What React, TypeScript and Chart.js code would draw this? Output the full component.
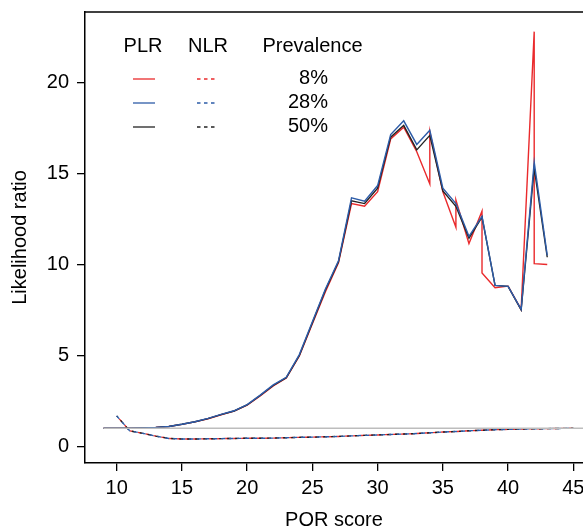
import React, { useEffect, useRef } from 'react';
import { Chart, registerables } from 'chart.js';

Chart.register(...registerables);

// ---- data ----
const scoreX = [9, 10, 11, 12, 13, 14, 15, 16, 17, 18, 19, 20, 21, 22, 23, 24, 25, 26, 27, 28, 29, 30, 31, 32, 33, 34, 35, 36, 37, 38, 39, 40, 41, 42, 43];
const plr50 = [1.0, 1.0, 1.0, 1.02, 1.05, 1.1, 1.22, 1.36, 1.53, 1.75, 1.95, 2.28, 2.8, 3.35, 3.78, 5.0, 6.8, 8.6, 10.15, 13.5, 13.35, 14.2, 17.0, 17.65, 16.3, 17.1, 14.05, 13.2, 11.45, 12.6, 8.85, 8.8, 7.5, 15.3, 10.4];
const plr28 = [1.0, 1.0, 1.0, 1.02, 1.05, 1.1, 1.22, 1.36, 1.54, 1.76, 1.96, 2.3, 2.82, 3.38, 3.8, 5.05, 6.85, 8.65, 10.2, 13.66, 13.48, 14.34, 17.14, 17.9, 16.6, 17.38, 14.2, 13.35, 11.55, 12.65, 8.85, 8.8, 7.53, 15.62, 10.5];
const plr8X = [9, 10, 11, 12, 13, 14, 15, 16, 17, 18, 19, 20, 21, 22, 23, 24, 25, 26, 27, 28, 29, 30, 31, 32, 33, 34, 34, 35, 36, 36, 37, 38, 38, 39, 40, 41, 42, 42, 43];
const plr8 = [1.0, 1.0, 1.0, 1.02, 1.05, 1.1, 1.21, 1.35, 1.52, 1.74, 1.94, 2.27, 2.78, 3.33, 3.76, 4.97, 6.75, 8.5, 10.1, 13.35, 13.2, 14.0, 16.9, 17.55, 16.2, 14.43, 17.3, 14.0, 12.05, 13.55, 11.15, 12.93, 9.54, 8.72, 8.81, 7.53, 22.8, 10.05, 10.0];

const nlrX = [10, 11, 12, 13, 14, 15, 16, 17, 18, 19, 20, 21, 22, 23, 24, 25, 26, 27, 28, 29, 30, 31, 32, 33, 34, 35, 36, 37, 38, 39, 40, 41, 42, 43, 44, 45];
const nlr50 = [1.68, 0.86, 0.72, 0.57, 0.44, 0.41, 0.41, 0.42, 0.43, 0.44, 0.45, 0.45, 0.46, 0.48, 0.5, 0.51, 0.53, 0.55, 0.58, 0.61, 0.63, 0.66, 0.68, 0.71, 0.75, 0.79, 0.82, 0.86, 0.89, 0.92, 0.94, 0.96, 0.97, 0.98, 0.99, 1.0];
const nlr28 = [1.68, 0.86, 0.72, 0.57, 0.44, 0.41, 0.41, 0.42, 0.43, 0.44, 0.45, 0.45, 0.46, 0.48, 0.5, 0.51, 0.53, 0.55, 0.58, 0.61, 0.63, 0.66, 0.68, 0.71, 0.75, 0.79, 0.82, 0.86, 0.89, 0.92, 0.94, 0.96, 0.97, 0.98, 0.99, 1.0];
const nlr8 = [1.68, 0.86, 0.72, 0.57, 0.44, 0.41, 0.41, 0.42, 0.43, 0.44, 0.45, 0.45, 0.46, 0.48, 0.5, 0.51, 0.53, 0.55, 0.58, 0.61, 0.63, 0.66, 0.68, 0.71, 0.75, 0.79, 0.82, 0.86, 0.89, 0.92, 0.94, 0.96, 0.97, 0.98, 0.99, 1.0];

const refX = [9, 47];
const refY = [1, 1];

const xTicks = [10, 15, 20, 25, 30, 35, 40, 45];
const yTicks = [0, 5, 10, 15, 20];
const prevalenceLabels = ['8%', '28%', '50%'];

const RED = '#ea2a2c';
const BLUE = '#2d5ca8';
const BLACK = '#222222';
const FONT = '"Liberation Sans", Arial, sans-serif';

const toPts = (xs: number[], ys: number[]) => xs.map((x, i) => ({ x, y: ys[i] }));

const legendPlugin = {
  id: 'rlegend',
  afterDraw(chart: any) {
    const ctx = chart.ctx;
    const { top, left, right } = chart.chartArea;
    ctx.save();
    // top border of the box
    ctx.strokeStyle = '#000';
    ctx.lineWidth = 1.5;
    ctx.beginPath();
    ctx.moveTo(left, top);
    ctx.lineTo(right, top);
    ctx.stroke();

    ctx.font = `20px ${FONT}`;
    ctx.fillStyle = '#000';
    ctx.textBaseline = 'middle';
    ctx.textAlign = 'center';
    ctx.fillText('PLR', 143, 46.5);
    ctx.fillText('NLR', 208, 46.5);
    ctx.fillText('Prevalence', 312.5, 46.5);
    const colors = [RED, BLUE, BLACK];
    const rows = [78, 102, 126];
    rows.forEach((y, i) => {
      ctx.textAlign = 'right';
      ctx.fillStyle = '#000';
      ctx.fillText(prevalenceLabels[i], 328, y + 0.5);
      ctx.strokeStyle = colors[i];
      ctx.lineWidth = 1.3;
      ctx.setLineDash([]);
      ctx.beginPath();
      ctx.moveTo(133, y + 1);
      ctx.lineTo(155, y + 1);
      ctx.stroke();
      ctx.setLineDash([3.5, 3.5]);
      ctx.beginPath();
      ctx.moveTo(197, y + 1);
      ctx.lineTo(217, y + 1);
      ctx.stroke();
    });
    ctx.restore();
  },
};

export default function App() {
  const ref = useRef<HTMLCanvasElement>(null);
  useEffect(() => {
    document.body.style.margin = '0';
    const canvas = ref.current;
    if (!canvas) return;
    const lineDs = (label: string, data: any[], color: string, dashed: boolean, offset = 0) => ({
      label,
      data,
      borderColor: color,
      backgroundColor: color,
      borderWidth: 1.4,
      borderDash: dashed ? [4, 4] : [],
      borderDashOffset: offset,
      pointRadius: 0,
      tension: 0,
      fill: false,
    });
    const chart = new Chart(canvas, {
      type: 'line',
      data: {
        datasets: [
          { ...lineDs('ref', toPts(refX, refY), '#bdbdbd', false), borderWidth: 1.6 },
          lineDs('NLR 28%', toPts(nlrX, nlr28), BLUE, true, 0),
          lineDs('NLR 50%', toPts(nlrX, nlr50), BLACK, true, 2),
          lineDs('NLR 8%', toPts(nlrX, nlr8), RED, true, 4),
          lineDs('PLR 28%', toPts(scoreX, plr28), BLUE, false),
          lineDs('PLR 50%', toPts(scoreX, plr50), BLACK, false),
          lineDs('PLR 8%', toPts(plr8X, plr8), RED, false),
        ],
      },
      options: {
        responsive: false,
        animation: false,
        devicePixelRatio: 1,
        layout: { padding: { top: 12, left: 0, right: 0, bottom: 0 } },
        plugins: { legend: { display: false }, tooltip: { enabled: false } },
        scales: {
          x: {
            type: 'linear',
            min: 7.574,
            max: 45.74,
            afterBuildTicks: (s: any) => {
              s.ticks = xTicks.map((v) => ({ value: v }));
            },
            afterFit: (s: any) => {
              s.height = 66;
              s.paddingLeft = 0;
              s.paddingRight = 0;
            },
            grid: { drawOnChartArea: false, drawTicks: true, tickLength: 8, color: '#000', lineWidth: 1.3 },
            border: { display: true, color: '#000', width: 1.5 },
            ticks: { color: '#000', font: { family: FONT, size: 20 }, padding: 5, maxRotation: 0, autoSkip: false },
            title: { display: true, text: 'POR score', color: '#000', font: { family: FONT, size: 20 }, padding: { top: 0, bottom: -3 } },
          },
          y: {
            type: 'linear',
            min: -0.91,
            max: 23.88,
            afterBuildTicks: (s: any) => {
              s.ticks = yTicks.map((v) => ({ value: v }));
            },
            afterFit: (s: any) => {
              s.width = 85;
              s.paddingTop = 0;
              s.paddingBottom = 0;
            },
            grid: { drawOnChartArea: false, drawTicks: true, tickLength: 8, color: '#000', lineWidth: 1.3 },
            border: { display: true, color: '#000', width: 1.5 },
            ticks: { color: '#000', font: { family: FONT, size: 20 }, padding: 8 },
            title: { display: true, text: 'Likelihood ratio', color: '#000', font: { family: FONT, size: 20 }, padding: { top: 8.5, bottom: 0 } },
          },
        },
      },
      plugins: [legendPlugin],
    });
    return () => chart.destroy();
  }, []);
  return (
    <div style={{ width: 583, height: 529 }}>
      <canvas ref={ref} width={583} height={529} style={{ display: 'block', width: 583, height: 529 }} />
    </div>
  );
}
